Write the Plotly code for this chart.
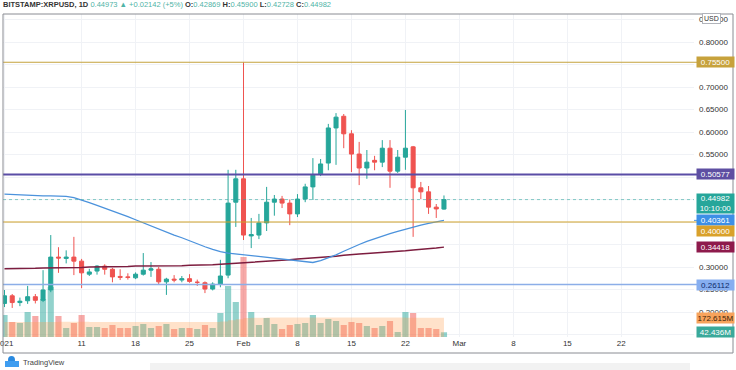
import plotly.graph_objects as go
import pandas as pd

# ---------------- data ----------------
dates = pd.date_range("2021-01-01", "2021-02-27", freq="D")

opens = [0.219, 0.236, 0.221, 0.225, 0.234, 0.226, 0.249, 0.322, 0.319, 0.322,
         0.313, 0.284, 0.291, 0.302, 0.295, 0.279, 0.278, 0.276, 0.284, 0.293,
         0.295, 0.267, 0.273, 0.271, 0.274, 0.266, 0.265, 0.251, 0.262, 0.282,
         0.444, 0.496, 0.369, 0.371, 0.398, 0.444, 0.451, 0.442, 0.418, 0.451,
         0.478, 0.507, 0.531, 0.609, 0.635, 0.596, 0.551, 0.520, 0.537, 0.533,
         0.564, 0.513, 0.544, 0.567, 0.476, 0.467, 0.433, 0.42869]
highs = [0.249, 0.240, 0.232, 0.258, 0.240, 0.293, 0.371, 0.344, 0.337, 0.367,
         0.318, 0.296, 0.304, 0.306, 0.298, 0.295, 0.286, 0.288, 0.331, 0.311,
         0.300, 0.276, 0.282, 0.280, 0.284, 0.272, 0.268, 0.266, 0.316, 0.516,
         0.516, 0.755, 0.409, 0.418, 0.478, 0.460, 0.458, 0.450, 0.462, 0.485,
         0.542, 0.540, 0.618, 0.642, 0.640, 0.604, 0.578, 0.560, 0.547, 0.582,
         0.582, 0.560, 0.649, 0.569, 0.489, 0.480, 0.440, 0.45900]
lows = [0.211, 0.209, 0.213, 0.218, 0.219, 0.222, 0.244, 0.287, 0.308, 0.282,
        0.253, 0.280, 0.283, 0.283, 0.266, 0.271, 0.272, 0.273, 0.281, 0.278,
        0.262, 0.238, 0.266, 0.266, 0.265, 0.258, 0.242, 0.248, 0.255, 0.275,
        0.389, 0.360, 0.342, 0.362, 0.380, 0.414, 0.431, 0.393, 0.411, 0.444,
        0.449, 0.502, 0.515, 0.527, 0.564, 0.511, 0.482, 0.496, 0.515, 0.522,
        0.476, 0.509, 0.516, 0.367, 0.451, 0.418, 0.409, 0.42728]
closes = [0.236, 0.221, 0.224, 0.234, 0.226, 0.249, 0.322, 0.320, 0.322, 0.313,
          0.287, 0.289, 0.302, 0.295, 0.278, 0.277, 0.277, 0.284, 0.293, 0.296,
          0.267, 0.273, 0.271, 0.274, 0.268, 0.266, 0.251, 0.262, 0.280, 0.442,
          0.496, 0.371, 0.372, 0.398, 0.444, 0.451, 0.442, 0.418, 0.451, 0.478,
          0.504, 0.529, 0.609, 0.633, 0.596, 0.551, 0.520, 0.533, 0.533, 0.564,
          0.513, 0.544, 0.564, 0.476, 0.467, 0.433, 0.429, 0.44982]

# volume in millions
volumes = [198, 135, 126, 225, 189, 342, 450, 189, 81, 126,
           198, 90, 90, 81, 108, 81, 81, 99, 117, 81,
           99, 117, 72, 81, 81, 72, 108, 81, 216, 459,
           315, 720, 225, 108, 171, 117, 72, 108, 117, 126,
           198, 126, 162, 144, 108, 135, 126, 99, 81, 99,
           144, 45, 225, 216, 81, 81, 72, 42.436]

# volume moving average (millions)
vol_ma = [135, 135, 135, 135, 135, 135, 136, 137, 137, 137,
          137, 136, 136, 135, 135, 135, 134, 134, 134, 134,
          134, 134, 134, 134, 134, 134, 134, 134, 140, 150,
          160, 172, 174, 174, 175, 175, 175, 175, 175, 175,
          175, 175, 175, 175, 175, 175, 175, 175, 175, 175,
          175, 175, 174, 174, 173, 173, 173, 172.615]

ma_blue = [0.462, 0.461, 0.460, 0.459, 0.458, 0.458, 0.458, 0.458, 0.457, 0.454,
           0.449, 0.443, 0.437, 0.431, 0.425, 0.419, 0.412, 0.405, 0.398, 0.391,
           0.384, 0.378, 0.371, 0.365, 0.358, 0.351, 0.345, 0.339, 0.334, 0.331,
           0.329, 0.327, 0.325, 0.323, 0.321, 0.319, 0.317, 0.315, 0.313, 0.311,
           0.310, 0.314, 0.320, 0.327, 0.335, 0.343, 0.350, 0.357, 0.363, 0.369,
           0.374, 0.379, 0.384, 0.389, 0.393, 0.397, 0.400, 0.40361]

ma_maroon = [0.296, 0.296, 0.297, 0.297, 0.297, 0.298, 0.298, 0.298, 0.299, 0.299,
             0.299, 0.300, 0.300, 0.300, 0.301, 0.301, 0.301, 0.302, 0.302, 0.302,
             0.302, 0.303, 0.303, 0.303, 0.304, 0.304, 0.305, 0.305, 0.306, 0.307,
             0.308, 0.310, 0.311, 0.312, 0.313, 0.314, 0.315, 0.316, 0.318, 0.319,
             0.320, 0.322, 0.323, 0.324, 0.326, 0.328, 0.329, 0.330, 0.331, 0.332,
             0.334, 0.335, 0.336, 0.338, 0.339, 0.341, 0.342, 0.34418]

level_prices = [0.755, 0.50577, 0.40, 0.26112]
last_close = 0.44982

x_tick_dates = ["2021-01-01", "2021-01-11", "2021-01-18", "2021-01-25", "2021-02-01",
                "2021-02-08", "2021-02-15", "2021-02-22", "2021-03-01", "2021-03-08",
                "2021-03-15", "2021-03-22"]
x_tick_text = ["2021", "11", "18", "25", "Feb", "8", "15", "22", "Mar", "8", "15", "22"]

y_tick_vals = [0.15, 0.20, 0.25, 0.30, 0.35, 0.40, 0.45, 0.50, 0.55, 0.60, 0.65, 0.70, 0.75, 0.80, 0.85]
y_tick_text = ["", "0.20000", "0.25000", "0.30000", "", "", "", "", "0.55000", "0.60000",
               "0.65000", "0.70000", "", "0.80000", "0.85000"]

# ---------------- layout geometry ----------------
W, H = 736, 370
ML, MR, MT, MB = 3, 42, 14, 33
PW, PH = W - ML - MR, H - MT - MB


def pxx(px):
    return (px - ML) / PW


def pxy(py):
    return (H - MB - py) / PH


PPU = 450.0  # pixels per price unit
y_top = 0.8 + (42 - MT) / PPU
y_bot = y_top - PH / PPU
x0 = pd.Timestamp("2021-01-01") + pd.Timedelta(days=(ML - 4.5) / 7.71)
x1 = pd.Timestamp("2021-01-01") + pd.Timedelta(days=(W - MR - 4.5) / 7.71)
vol_top = PH * 9.0

GREEN = "#26a69a"
RED = "#ef5350"

fig = go.Figure()

# volume MA band
fig.add_trace(go.Scatter(x=dates, y=vol_ma, yaxis="y", mode="lines",
                         line=dict(width=0, shape="hv"), fill="tozeroy",
                         fillcolor="rgba(255,160,80,0.30)", hoverinfo="skip",
                         showlegend=False))
# volume bars
vcolors = ["rgba(38,166,154,0.5)" if c >= o else "rgba(239,83,80,0.5)"
           for o, c in zip(opens, closes)]
fig.add_trace(go.Bar(x=dates, y=volumes, yaxis="y", marker=dict(color=vcolors, line=dict(width=0)),
                     width=0.8 * 86400000, showlegend=False))

# moving averages
fig.add_trace(go.Scatter(x=dates, y=ma_maroon, yaxis="y2", mode="lines",
                         line=dict(color="#7d1d3f", width=1.5), showlegend=False))
fig.add_trace(go.Scatter(x=dates, y=ma_blue, yaxis="y2", mode="lines",
                         line=dict(color="#4b92dc", width=1.3), showlegend=False))

# candles
fig.add_trace(go.Candlestick(x=dates, open=opens, high=highs, low=lows, close=closes,
                             yaxis="y2",
                             increasing=dict(line=dict(color=GREEN, width=1), fillcolor=GREEN),
                             decreasing=dict(line=dict(color=RED, width=1), fillcolor=RED),
                             showlegend=False))

shapes = []
level_styles = [("#c4a23c", 1.2), ("#5a4da6", 2.0), ("#cfa12a", 1.2), ("#8caee8", 1.5)]
for p, (col, w) in zip(level_prices, level_styles):
    shapes.append(dict(type="line", xref="paper", yref="y2", x0=0, x1=pxx(698), y0=p, y1=p,
                       line=dict(color=col, width=w)))
# dotted last price line
shapes.append(dict(type="line", xref="paper", yref="y2", x0=0, x1=1, y0=last_close, y1=last_close,
                   line=dict(color="rgba(38,166,154,0.55)", width=1, dash="dot")))
# MA dashes into axis
shapes.append(dict(type="line", xref="paper", yref="y2", x0=1, x1=pxx(698), y0=ma_blue[-1], y1=ma_blue[-1],
                   line=dict(color="#4b92dc", width=1)))
# frame
shapes.append(dict(type="rect", xref="paper", yref="paper", x0=pxx(3), x1=pxx(733), y0=pxy(353), y1=pxy(14),
                   line=dict(color="#8a8c93", width=1)))
# bottom shadow
shapes.append(dict(type="rect", xref="paper", yref="paper", x0=pxx(150), x1=pxx(690), y0=pxy(370), y1=pxy(363),
                   line=dict(width=0), fillcolor="rgba(0,0,0,0.05)"))
# TradingView logo icon (cloud)
shapes.append(dict(type="circle", xref="paper", yref="paper", x0=pxx(8), x1=pxx(15), y0=pxy(364), y1=pxy(356),
                   line=dict(width=0), fillcolor="#2a8ae0"))
shapes.append(dict(type="rect", xref="paper", yref="paper", x0=pxx(5), x1=pxx(19), y0=pxy(367), y1=pxy(361),
                   line=dict(width=0), fillcolor="#3f9df0"))

annotations = []


def label(text, yval, bg, fc="white", yref="y2", yshift=0, h=10):
    annotations.append(dict(text=text, xref="paper", x=pxx(696), xanchor="left",
                            yref=yref, y=yval, yanchor="middle", yshift=yshift,
                            showarrow=False, bgcolor=bg, width=37, height=h,
                            font=dict(family="Liberation Sans", size=8, color=fc),
                            borderpad=0, align="center"))


label("0.75500", 0.755, "#c7a23c")
label("0.50577", 0.50577, "#5e4fa2")
label("0.44982<br>10:10:00", last_close, "#26a69a", yshift=-4, h=19)
label("0.40361", ma_blue[-1], "#3d8fe6", yshift=0)
label("0.40000", 0.40, "#d9a12a", yshift=-9)
label("0.34418", ma_maroon[-1], "#8e1a4c")
label("0.26112", 0.26112, "#86aef0", fc="#0d2a6b")
label("172.615M", vol_ma[-1], "#f7a35c", fc="#3a2208", yref="y")
label("42.436M", volumes[-1], "#3aa99a", yref="y")

# USD box
annotations.append(dict(text="USD", xref="paper", x=pxx(712), xanchor="center", yref="paper", y=pxy(19),
                        yanchor="middle", showarrow=False, bgcolor="white", bordercolor="#b0b3ba",
                        borderwidth=1, borderpad=1, font=dict(family="Liberation Sans", size=7, color="#333")))

# header
teal = "#4fb3a6"
hdr = ("<b>BITSTAMP:XRPUSD, 1D</b> "
       f"<span style='color:{teal}'>0.44973 ▲ +0.02142 (+5%)</span> "
       f"<b>O:</b><span style='color:{teal}'>0.42869</span> "
       f"<b>H:</b><span style='color:{teal}'>0.45900</span> "
       f"<b>L:</b><span style='color:{teal}'>0.42728</span> "
       f"<b>C:</b><span style='color:{teal}'>0.44982</span>")
annotations.append(dict(text=hdr, xref="paper", x=pxx(1), xanchor="left", yref="paper", y=pxy(5),
                        yanchor="middle", showarrow=False,
                        font=dict(family="Liberation Sans", size=7.5, color="#333")))
# TradingView
annotations.append(dict(text="TradingView", xref="paper", x=pxx(21), xanchor="left", yref="paper", y=pxy(362),
                        yanchor="middle", showarrow=False,
                        font=dict(family="Liberation Sans", size=7.5, color="#444")))

fig.update_layout(
    width=W, height=H,
    margin=dict(l=ML, r=MR, t=MT, b=MB, autoexpand=False),
    paper_bgcolor="white", plot_bgcolor="white",
    showlegend=False, boxgap=0.25,
    font=dict(family="Liberation Sans", size=8, color="#333"),
    xaxis=dict(type="date", range=[x0, x1], tickvals=x_tick_dates, ticktext=x_tick_text,
               showgrid=True, gridcolor="#f0f2f6", gridwidth=1, zeroline=False,
               rangeslider=dict(visible=False), ticks="", showline=False,
               ticklabeloverflow="allow", automargin=False,
               tickfont=dict(size=8, color="#333")),
    yaxis=dict(range=[0, vol_top], visible=False, showgrid=False, fixedrange=True, automargin=False),
    yaxis2=dict(range=[y_bot, y_top], overlaying="y", side="right", tickvals=y_tick_vals,
                ticktext=y_tick_text, showgrid=True, gridcolor="#f0f2f6", gridwidth=1,
                zeroline=False, ticks="", showline=False, tickfont=dict(size=8, color="#333"),
                ticklabelstandoff=4, automargin=False),
    shapes=shapes, annotations=annotations,
)

fig.write_html("out.html", config={"responsive": False, "displayModeBar": False},
               post_script="document.body.style.margin='0';document.body.style.overflow='hidden';")
